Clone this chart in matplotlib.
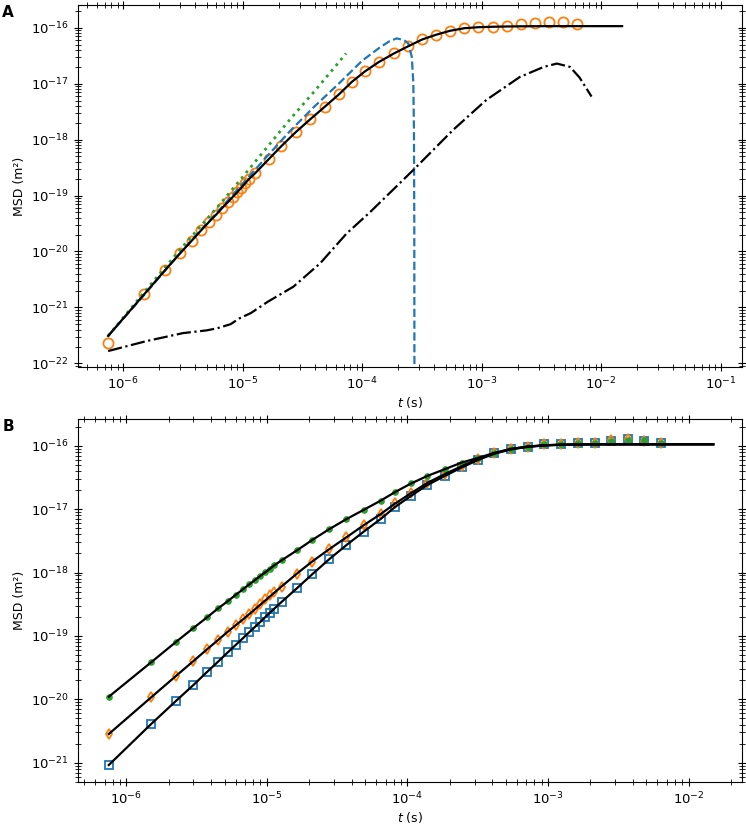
import matplotlib
matplotlib.use("Agg")
import matplotlib.pyplot as plt
import numpy as np

# lag indices of the sampled points, frame time 0.75 us
DT = 7.5e-7
lags = [1, 2, 3, 4, 5, 6, 7, 8, 9, 10, 11, 12, 13, 14, 15, 17, 22, 28, 37, 49, 65,
        86, 109, 141, 184, 247, 325, 426, 555, 726, 957, 1253, 1654, 2167, 2857,
        3757, 4921, 6456, 8453]
lags_fit = lags + [20000]

# ---- panel A (log10 of MSD in m^2) ----
a_data = [-21.643, -20.767, -20.332, -20.034, -19.808, -19.622, -19.469, -19.343,
          -19.224, -19.122, -19.027, -18.943, -18.861, -18.783, -18.711, -18.600,
          -18.353, -18.121, -17.870, -17.638, -17.412, -17.185, -16.971, -16.780,
          -16.613, -16.458, -16.330, -16.208, -16.125, -16.054, -16.005, -15.993,
          -15.982, -15.970, -15.939, -15.916, -15.903, -15.903, -15.934]
a_fit = [-21.510, -20.767, -20.332, -20.034, -19.808, -19.622, -19.469, -19.343,
         -19.224, -19.122, -19.027, -18.943, -18.861, -18.783, -18.711, -18.600,
         -18.353, -18.121, -17.870, -17.638, -17.412, -17.185, -16.971, -16.780,
         -16.613, -16.458, -16.330, -16.208, -16.125, -16.054, -16.008, -15.990,
         -15.982, -15.977, -15.974, -15.972, -15.971, -15.971, -15.971, -15.971]

# short-time expansion (dashed), log10 t and log10 MSD
a_short_t = [-6.125, -5.8, -5.5, -5.2, -5.0, -4.8, -4.6, -4.4, -4.2, -4.0, -3.85,
             -3.77, -3.71, -3.65, -3.613, -3.584, -3.571, -3.566, -3.563, -3.5615]
a_short_m = [-21.51, -20.72, -19.97, -19.27, -18.79, -18.31, -17.84, -17.41, -17.01,
             -16.59, -16.35, -16.24, -16.19, -16.22, -16.28, -16.52, -16.99, -17.8,
             -19.5, -23.0]

# ballistic-like approximation (dotted)
a_ball_t = [-6.125, -5.8, -5.5, -5.2, -5.0, -4.8, -4.6, -4.4, -4.2, -4.134]
a_ball_m = [-21.51, -20.67, -19.91, -19.18, -18.67, -18.15, -17.63, -17.14, -16.63, -16.458]

# difference curve (dash-dot)
a_diff_t = [-6.125, -5.8, -5.5, -5.3, -5.216, -5.1, -5.03, -4.93, -4.79, -4.575,
            -4.35, -4.13, -3.93, -3.57, -3.24, -2.96, -2.68, -2.48, -2.37, -2.26,
            -2.18, -2.08]
a_diff_m = [-21.78, -21.60, -21.46, -21.41, -21.375, -21.30, -21.20, -21.10, -20.90,
            -20.63, -20.21, -19.68, -19.29, -18.54, -17.83, -17.29, -16.88, -16.70,
            -16.64, -16.70, -16.89, -17.23]

# ---- panel B ----
b_green = [-19.959, -19.416, -19.096, -18.875, -18.707, -18.565, -18.454, -18.350,
           -18.265, -18.186, -18.118, -18.050, -17.997, -17.945, -17.887, -17.808,
           -17.645, -17.487, -17.314, -17.156, -17.019, -16.872, -16.730, -16.593,
           -16.478, -16.372, -16.265, -16.195, -16.115, -16.047, -16.016, -15.978,
           -15.973, -15.962, -15.953, -15.930, -15.905, -15.915, -15.955]
b_green_fit = [-19.959, -19.416, -19.096, -18.875, -18.707, -18.565, -18.454, -18.352,
               -18.265, -18.186, -18.116, -18.052, -17.995, -17.940, -17.888, -17.806,
               -17.645, -17.487, -17.316, -17.158, -17.012, -16.866, -16.730, -16.597,
               -16.478, -16.368, -16.265, -16.190, -16.112, -16.050, -16.012, -15.992,
               -15.983, -15.979, -15.978, -15.978, -15.978, -15.978, -15.978, -15.978]
b_orange = [-20.547, -19.969, -19.633, -19.396, -19.211, -19.065, -18.934, -18.833,
            -18.738, -18.655, -18.571, -18.497, -18.423, -18.355, -18.310, -18.228,
            -18.020, -17.829, -17.634, -17.445, -17.251, -17.077, -16.909, -16.751,
            -16.584, -16.446, -16.320, -16.205, -16.118, -16.050, -16.016, -15.975,
            -15.973, -15.958, -15.950, -15.910, -15.895, -15.930, -15.962]
b_orange_fit = [-20.547, -19.969, -19.633, -19.396, -19.211, -19.063, -18.936, -18.831,
                -18.740, -18.655, -18.577, -18.505, -18.439, -18.378, -18.321, -18.218,
                -18.010, -17.826, -17.632, -17.445, -17.255, -17.077, -16.912, -16.750,
                -16.588, -16.445, -16.322, -16.205, -16.118, -16.052, -16.015, -15.994,
                -15.984, -15.980, -15.979, -15.978, -15.978, -15.978, -15.978, -15.978]
b_blue = [-21.036, -20.390, -20.027, -19.774, -19.565, -19.407, -19.259, -19.144,
          -19.038, -18.934, -18.855, -18.776, -18.697, -18.634, -18.580, -18.461,
          -18.240, -18.028, -17.790, -17.570, -17.356, -17.150, -16.962, -16.793,
          -16.620, -16.473, -16.340, -16.220, -16.120, -16.057, -16.016, -15.975,
          -15.973, -15.955, -15.952, -15.921, -15.900, -15.921, -15.962]
b_blue_fit = [-21.036, -20.390, -20.027, -19.774, -19.568, -19.405, -19.262, -19.142,
              -19.036, -18.940, -18.855, -18.776, -18.702, -18.634, -18.572, -18.462,
              -18.240, -18.028, -17.790, -17.568, -17.357, -17.155, -16.965, -16.792,
              -16.622, -16.474, -16.342, -16.222, -16.125, -16.058, -16.018, -15.996,
              -15.985, -15.980, -15.978, -15.978, -15.978, -15.978, -15.978, -15.978]

BLUE = "#1f77b4"
ORANGE = "#ff7f0e"
GREEN = "#2ca02c"


def p10(v):
    return 10.0 ** np.asarray(v)


def style_axis(ax):
    ax.set_xscale("log")
    ax.set_yscale("log")
    ax.tick_params(which="both", direction="inout", top=True, right=True, labelsize=9.5)
    ax.tick_params(which="major", length=6)
    ax.tick_params(which="minor", length=4)
    ax.set_xlabel("$t$ (s)", fontsize=9, labelpad=1.5)
    ax.set_ylabel("MSD (m²)", fontsize=9)


t = DT * np.array(lags)
t_fit = DT * np.array(lags_fit)

fig = plt.figure(figsize=(7.46, 8.24), dpi=100)

# panel A
ax1 = fig.add_axes([0.1046, 0.5546, 0.890, 0.4393])
ax1.plot(t, p10(a_data), "o", mfc="none", mec=ORANGE, ms=7.3, mew=1.3, zorder=2)
ax1.plot(p10(a_ball_t), p10(a_ball_m), ":", color=GREEN, lw=2, zorder=3)
ax1.plot(p10(a_short_t), p10(a_short_m), "--", color=BLUE, lw=1.6, zorder=3)
ax1.plot(t_fit, p10(a_fit), "-", color="black", lw=1.6, zorder=4)
ax1.plot(p10(a_diff_t), p10(a_diff_m), "-.", color="black", lw=1.6, zorder=4)
style_axis(ax1)
ax1.set_xlim(4.2e-7, 0.151)
ax1.set_ylim(8.6e-23, 2.55e-16)

# panel B
ax2 = fig.add_axes([0.1046, 0.0510, 0.890, 0.4405])
ax2.plot(t, p10(b_blue), "s", mfc="none", mec=BLUE, ms=5.8, mew=1.3, zorder=2)
ax2.plot(t, p10(b_orange), "d", mfc="none", mec=ORANGE, ms=5.4, mew=1.3, zorder=2)
ax2.plot(t, p10(b_green), "o", color=GREEN, ms=3.8, zorder=2)
for vals in (b_green_fit, b_orange_fit, b_blue_fit):
    ax2.plot(t_fit, p10(vals), "-", color="black", lw=1.6, zorder=4)
style_axis(ax2)
ax2.set_xlim(4.53e-7, 0.024)
ax2.set_ylim(4.97e-22, 2.64e-16)

fig.text(0.003, 0.994, "A", fontsize=11, fontweight="bold", va="top", ha="left")
fig.text(0.003, 0.492, "B", fontsize=11, fontweight="bold", va="top", ha="left")

fig.savefig("out.png", dpi=100)
